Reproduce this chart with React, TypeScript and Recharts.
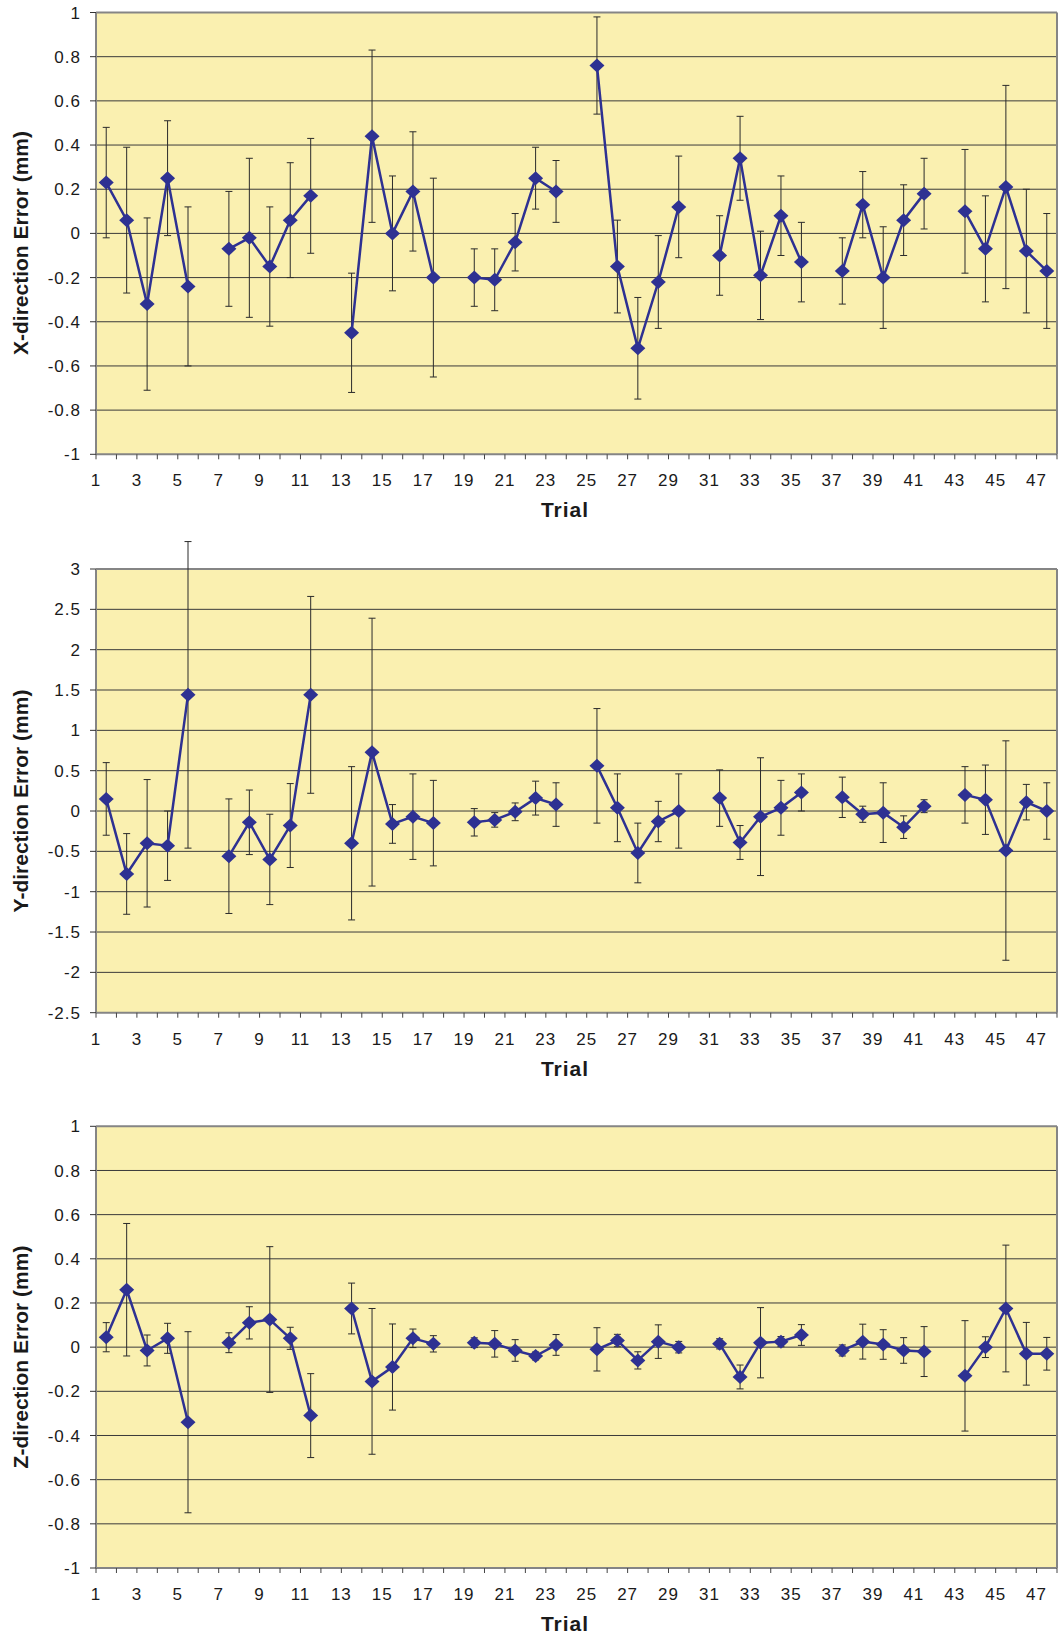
import {
  LineChart,
  Line,
  XAxis,
  YAxis,
  ErrorBar,
  ReferenceLine,
  ReferenceArea,
} from "recharts";

// trials 6, 12, 18 ... were not run, so they are gaps (null)
const trials = [
  1, 2, 3, 4, 5, 6, 7, 8, 9, 10, 11, 12, 13, 14, 15, 16, 17, 18, 19, 20, 21, 22, 23, 24,
  25, 26, 27, 28, 29, 30, 31, 32, 33, 34, 35, 36, 37, 38, 39, 40, 41, 42, 43, 44, 45, 46, 47,
];
const xTickLabels = [
  "1", "3", "5", "7", "9", "11", "13", "15", "17", "19", "21", "23",
  "25", "27", "29", "31", "33", "35", "37", "39", "41", "43", "45", "47",
];

const xErrorMean = [
  0.23, 0.06, -0.32, 0.25, -0.24, null, -0.07, -0.02, -0.15, 0.06, 0.17, null,
  -0.45, 0.44, 0.0, 0.19, -0.2, null, -0.2, -0.21, -0.04, 0.25, 0.19, null,
  0.76, -0.15, -0.52, -0.22, 0.12, null, -0.1, 0.34, -0.19, 0.08, -0.13, null,
  -0.17, 0.13, -0.2, 0.06, 0.18, null, 0.1, -0.07, 0.21, -0.08, -0.17,
];
const xErrorSd = [
  0.25, 0.33, 0.39, 0.26, 0.36, null, 0.26, 0.36, 0.27, 0.26, 0.26, null,
  0.27, 0.39, 0.26, 0.27, 0.45, null, 0.13, 0.14, 0.13, 0.14, 0.14, null,
  0.22, 0.21, 0.23, 0.21, 0.23, null, 0.18, 0.19, 0.2, 0.18, 0.18, null,
  0.15, 0.15, 0.23, 0.16, 0.16, null, 0.28, 0.24, 0.46, 0.28, 0.26,
];
const xTicks = [-1, -0.8, -0.6, -0.4, -0.2, 0, 0.2, 0.4, 0.6, 0.8, 1];

const yErrorMean = [
  0.15, -0.78, -0.4, -0.43, 1.44, null, -0.56, -0.14, -0.6, -0.18, 1.44, null,
  -0.4, 0.73, -0.16, -0.07, -0.15, null, -0.14, -0.11, -0.01, 0.16, 0.08, null,
  0.56, 0.04, -0.52, -0.13, 0.0, null, 0.16, -0.39, -0.07, 0.04, 0.23, null,
  0.17, -0.04, -0.02, -0.2, 0.06, null, 0.2, 0.14, -0.49, 0.11, 0.0,
];
const yErrorSd = [
  0.45, 0.5, 0.79, 0.43, 1.9, null, 0.71, 0.4, 0.56, 0.52, 1.22, null,
  0.95, 1.66, 0.24, 0.53, 0.53, null, 0.17, 0.09, 0.11, 0.21, 0.27, null,
  0.71, 0.42, 0.37, 0.25, 0.46, null, 0.35, 0.21, 0.73, 0.34, 0.23, null,
  0.25, 0.1, 0.37, 0.14, 0.08, null, 0.35, 0.43, 1.36, 0.22, 0.35,
];
const yTicks = [-2.5, -2, -1.5, -1, -0.5, 0, 0.5, 1, 1.5, 2, 2.5, 3];

const zErrorMean = [
  0.045, 0.26, -0.015, 0.04, -0.34, null, 0.02, 0.11, 0.125, 0.04, -0.31, null,
  0.175, -0.155, -0.09, 0.04, 0.015, null, 0.02, 0.015, -0.015, -0.04, 0.01, null,
  -0.01, 0.03, -0.06, 0.025, 0.0, null, 0.015, -0.135, 0.02, 0.025, 0.055, null,
  -0.015, 0.025, 0.012, -0.015, -0.02, null, -0.13, 0.0, 0.175, -0.03, -0.03,
];
const zErrorSd = [
  0.066, 0.3, 0.07, 0.068, 0.41, null, 0.045, 0.073, 0.33, 0.05, 0.19, null,
  0.115, 0.33, 0.195, 0.042, 0.037, null, 0.022, 0.06, 0.049, 0.018, 0.047, null,
  0.098, 0.028, 0.039, 0.076, 0.026, null, 0.023, 0.054, 0.159, 0.023, 0.047, null,
  0.025, 0.079, 0.067, 0.058, 0.113, null, 0.25, 0.047, 0.287, 0.142, 0.074,
];
const zTicks = [-1, -0.8, -0.6, -0.4, -0.2, 0, 0.2, 0.4, 0.6, 0.8, 1];

const PAGE_W = 1059;
const PAGE_H = 1639;
const PLOT_LEFT = 96;
const PLOT_RIGHT = 1057;
const X_AXIS_H = 66;
const NAVY = "#2e3192";
const PLOT_BG = "#faf0b0";
const FRAME = "#858585";
const GRID = "#3a3a3a";
const FONT = '"Liberation Sans", Arial, sans-serif';

const tickStyle = { fill: "#1a1a1a", fontSize: 17, fontFamily: FONT, letterSpacing: 1 };

// tick marks sit on the category boundaries, labels show the odd trial numbers
const boundaries = [...trials.map((t) => t - 0.5), trials[trials.length - 1] + 0.5];
const xFirst = boundaries[0];
const xLast = boundaries[boundaries.length - 1];

const formatTrial = (v: number) => {
  const label = String(v + 0.5);
  return xTickLabels.includes(label) ? label : "";
};

const Diamond = (props: any) => {
  const { cx, cy, index } = props;
  if (cx == null || cy == null || isNaN(cy)) return <g key={`d-${index}`} />;
  return (
    <path
      key={`d-${index}`}
      d={`M${cx},${cy - 7}L${cx + 7.5},${cy}L${cx},${cy + 7}L${cx - 7.5},${cy}Z`}
      fill={NAVY}
    />
  );
};

type PanelProps = {
  top: number;
  height: number;
  plotTop: number;
  plotBottom: number;
  ticks: number[];
  domainTop?: number;
  values: (number | null)[];
  errors: (number | null)[];
  title: string;
};

function Panel({ top, height, plotTop, plotBottom, ticks, domainTop, values, errors, title }: PanelProps) {
  const data = trials.map((t, i) => ({ trial: t, value: values[i], err: errors[i] }));
  const yMin = ticks[0];
  const yMax = ticks[ticks.length - 1];
  const dTop = domainTop ?? yMax;
  const pxPerUnit = (plotBottom - plotTop) / (yMax - yMin);
  const innerTop = plotTop - (dTop - yMax) * pxPerUnit;
  const margin = {
    top: innerTop - top,
    right: PAGE_W - PLOT_RIGHT,
    left: 0,
    bottom: height - (plotBottom - top) - X_AXIS_H,
  };

  return (
    <>
      <div style={{ position: "absolute", left: 0, top }}>
        <LineChart width={PAGE_W} height={height} data={data} margin={margin}>
          <ReferenceArea
            x1={xFirst}
            x2={xLast}
            y1={yMin}
            y2={yMax}
            fill={PLOT_BG}
            fillOpacity={1}
            stroke="none"
            ifOverflow="visible"
          />
          {ticks.slice(1, -1).map((t) => (
            <ReferenceLine key={t} y={t} stroke={GRID} strokeWidth={1} ifOverflow="visible" />
          ))}
          <XAxis
            type="number"
            dataKey="trial"
            domain={[xFirst, xLast]}
            ticks={boundaries}
            interval={0}
            allowDataOverflow
            tickFormatter={formatTrial}
            height={X_AXIS_H}
            tickSize={5}
            tickMargin={15}
            axisLine={{ stroke: FRAME, strokeWidth: 2 }}
            tickLine={{ stroke: "#444" }}
            tick={tickStyle}
          />
          <YAxis
            type="number"
            domain={[yMin, dTop]}
            ticks={ticks}
            interval={0}
            allowDataOverflow
            width={PLOT_LEFT}
            axisLine={false}
            tickSize={6}
            tickMargin={9}
            tickLine={{ stroke: "#333" }}
            tick={tickStyle}
            tickFormatter={(v: number) => String(v)}
          />
          <ReferenceLine y={yMax} stroke={FRAME} strokeWidth={2} ifOverflow="visible" />
          <ReferenceLine
            segment={[{ x: xFirst, y: yMin }, { x: xFirst, y: yMax }]}
            stroke={FRAME}
            strokeWidth={2}
            ifOverflow="visible"
          />
          <ReferenceLine
            segment={[{ x: xLast, y: yMin }, { x: xLast, y: yMax }]}
            stroke={FRAME}
            strokeWidth={2}
            ifOverflow="visible"
          />
          <Line
            type="linear"
            dataKey="value"
            stroke={NAVY}
            strokeWidth={2.5}
            connectNulls={false}
            dot={Diamond}
            activeDot={false}
            isAnimationActive={false}
          >
            <ErrorBar dataKey="err" direction="y" width={3.5} strokeWidth={1} stroke="#2b2b2b" />
          </Line>
        </LineChart>
      </div>
      <div
        style={{
          position: "absolute",
          left: 20.5,
          top: (plotTop + plotBottom) / 2 + 10,
          transform: "translate(-50%, -50%) rotate(-90deg)",
          whiteSpace: "nowrap",
          fontFamily: FONT,
          fontWeight: "bold",
          fontSize: 21,
          color: "#1a1a1a",
        }}
      >
        {title}
      </div>
      <div
        style={{
          position: "absolute",
          left: 565,
          top: plotBottom + 56,
          transform: "translate(-50%, -50%)",
          whiteSpace: "nowrap",
          fontFamily: FONT,
          fontWeight: "bold",
          fontSize: 21,
          letterSpacing: 1,
          color: "#1a1a1a",
        }}
      >
        Trial
      </div>
    </>
  );
}

export default function App() {
  return (
    <div
      style={{
        position: "absolute",
        left: 0,
        top: 0,
        width: PAGE_W,
        height: PAGE_H,
        background: "#ffffff",
        overflow: "hidden",
      }}
    >
      <Panel
        top={0}
        height={530}
        plotTop={12.5}
        plotBottom={454.3}
        ticks={xTicks}
        values={xErrorMean}
        errors={xErrorSd}
        title="X-direction Error (mm)"
      />
      <Panel
        top={530}
        height={560}
        plotTop={569}
        plotBottom={1012.7}
        ticks={yTicks}
        domainTop={3.4}
        values={yErrorMean}
        errors={yErrorSd}
        title="Y-direction Error (mm)"
      />
      <Panel
        top={1090}
        height={549}
        plotTop={1126.3}
        plotBottom={1568}
        ticks={zTicks}
        values={zErrorMean}
        errors={zErrorSd}
        title="Z-direction Error (mm)"
      />
    </div>
  );
}
